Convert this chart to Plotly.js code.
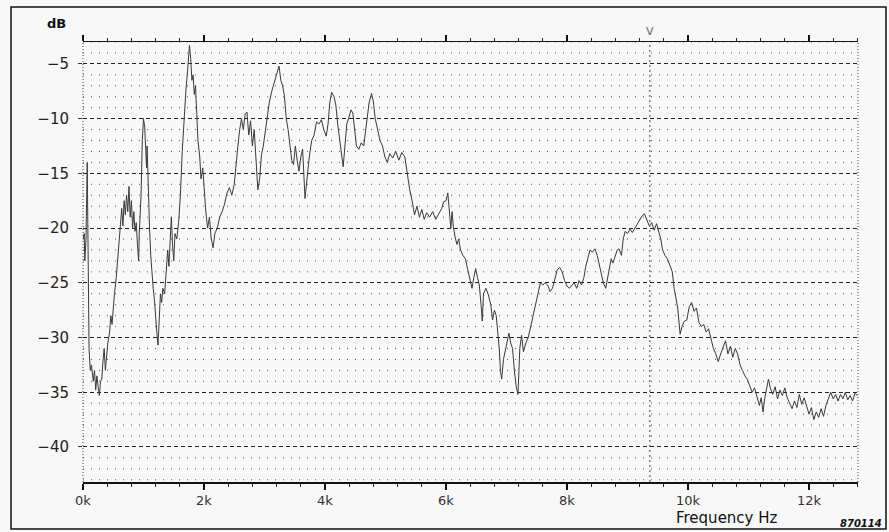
<!DOCTYPE html>
<html>
<head>
<meta charset="utf-8">
<script src="https://cdn.plot.ly/plotly-3.0.1.min.js"></script>
<style>
html,body{margin:0;padding:0;background:#f8f8f8;}
#chart{width:889px;height:532px;}
</style>
</head>
<body>
<div id="chart"></div>
<script>
// Frequency (kHz) and level (dB)
const freqKHz = [
0.00,0.02,0.03,0.05,0.07,0.08,0.09,0.10,0.12,0.14,0.17,0.19,0.21,0.23,0.25,0.27,0.29,0.31,0.33,0.35,0.37,0.39,0.41,0.44,0.46,0.48,
0.50,0.52,0.55,0.57,0.60,0.62,0.64,0.66,0.68,0.70,0.72,0.74,0.76,0.78,0.80,0.82,0.84,0.86,0.88,0.90,0.92,0.93,0.96,0.98,
1.00,1.02,1.04,1.05,1.06,1.08,1.10,1.12,1.14,1.16,1.18,1.20,1.22,1.24,1.26,1.28,1.30,1.32,1.35,1.38,1.40,1.42,1.44,1.46,1.48,
1.50,1.52,1.55,1.58,1.61,1.64,1.67,1.70,1.73,1.76,1.78,1.80,1.82,1.84,1.86,1.88,1.90,1.93,1.95,1.98,
2.00,2.03,2.06,2.09,2.12,2.15,2.18,2.22,2.26,2.30,2.34,2.38,2.42,2.46,2.50,2.53,2.56,2.59,2.62,2.65,2.68,2.71,2.74,2.77,2.80,2.83,2.86,2.89,2.92,2.95,2.98,
3.01,3.04,3.08,3.12,3.16,3.20,3.24,3.27,3.30,3.33,3.36,3.39,3.42,3.45,3.48,3.51,3.54,3.57,3.60,3.63,3.67,3.70,3.74,3.78,3.82,3.86,3.90,3.94,3.98,
4.02,4.05,4.08,4.11,4.15,4.18,4.21,4.24,4.27,4.30,4.33,4.36,4.39,4.43,4.46,4.49,4.52,4.56,4.60,4.64,4.67,4.70,4.73,4.77,4.80,4.83,4.87,4.91,4.95,4.99,
5.03,5.07,5.12,5.17,5.22,5.27,5.32,5.36,5.40,5.44,5.48,5.52,5.56,5.60,5.64,5.68,5.73,5.78,5.83,5.88,5.93,5.96,
6.00,6.03,6.05,6.08,6.10,6.12,6.15,6.18,6.21,6.24,6.28,6.32,6.36,6.40,6.43,6.46,6.49,6.52,6.55,6.58,6.60,6.62,6.66,6.70,6.74,6.77,6.80,6.83,6.86,6.88,6.90,6.92,6.95,6.98,
7.01,7.04,7.07,7.10,7.13,7.16,7.19,7.22,7.25,7.28,7.32,7.36,7.40,7.44,7.48,7.52,7.56,7.60,7.64,7.68,7.72,7.76,7.80,7.84,7.88,7.92,7.96,
8.00,8.04,8.08,8.12,8.16,8.20,8.24,8.28,8.31,8.34,8.38,8.42,8.46,8.50,8.53,8.56,8.60,8.64,8.67,8.70,8.73,8.76,8.80,8.83,8.86,8.90,8.93,8.96,
9.00,9.04,9.08,9.12,9.16,9.20,9.24,9.28,9.32,9.36,9.40,9.44,9.48,9.52,9.55,9.58,9.62,9.66,9.70,9.74,9.77,9.80,9.83,9.87,9.90,9.94,9.98,
10.02,10.06,10.10,10.14,10.18,10.22,10.26,10.30,10.34,10.38,10.42,10.46,10.50,10.54,10.58,10.62,10.66,10.70,10.74,10.78,10.82,10.86,10.90,10.94,10.98,
11.02,11.06,11.10,11.14,11.18,11.21,11.24,11.27,11.30,11.33,11.36,11.40,11.44,11.48,11.52,11.56,11.60,11.64,11.68,11.72,11.76,11.80,11.84,11.88,11.92,11.96,
12.00,12.04,12.08,12.12,12.16,12.20,12.24,12.28,12.32,12.36,12.40,12.44,12.48,12.52,12.56,12.60,12.64,12.68,12.72,12.76,12.80
];
const levelDb = [
-21,-20.5,-23,-21,-14,-19,-27,-31,-33,-32.5,-34,-33,-34.8,-33.5,-34.5,-35.3,-34,-33.8,-32.2,-31,-33,-31.5,-30.5,-29.5,-28,-28.8,
-27,-26,-24.5,-23,-21.5,-19.5,-18.2,-19.8,-17.5,-18.8,-17,-18.5,-16.2,-19,-17.5,-20,-18.5,-20.3,-19.5,-21.5,-23,-20.5,-17,-12,
-10,-10.8,-13,-14.5,-12.5,-17,-20,-22.5,-24.5,-25.5,-26.5,-28.5,-29.5,-30.7,-28,-26,-26.8,-25.5,-26,-24,-22,-23.5,-20.5,-19,-21.5,
-23,-20.5,-21,-19.5,-17,-13,-10,-7.5,-5.5,-3.3,-4.5,-6.5,-6,-7.8,-7,-9.5,-12,-13.5,-15.5,-14.5,
-16.5,-18.5,-20,-19,-21,-21.8,-20.5,-20,-19,-18.5,-17.8,-16.8,-16.3,-17,-16,-14,-12.5,-11,-10,-11,-9.6,-9.4,-11.5,-10.2,-12.5,-11,-13.5,-16.5,-15.5,-13.3,-12.5,
-11.2,-10.2,-8.5,-7.5,-6.8,-6,-5.2,-6.5,-7,-8,-10,-11,-12.5,-13.8,-14.2,-12.5,-13.8,-14.8,-13.5,-12.8,-17.3,-15.5,-13.5,-12,-11.5,-10.3,-10.5,-10.1,-11,
-11.6,-10.5,-8.5,-7.6,-8,-8.8,-10.5,-12,-13.2,-14.4,-12.5,-10.5,-10,-9.2,-9.5,-11,-12.5,-12.8,-12.2,-12.5,-11,-9.5,-8.5,-7.7,-8.5,-10,-11,-12,-12.5,-13.5,
-14,-13.2,-13.6,-13,-13.8,-13.1,-13.5,-15,-16.5,-17.5,-18.8,-18,-19,-18.3,-19.2,-18.6,-19,-18.5,-19.2,-18.7,-18.2,-17.6,
-17.5,-16.8,-18,-20,-18.5,-19.8,-20.8,-21.5,-21,-22,-22.5,-22.8,-23.8,-24.8,-25.5,-24.5,-23.7,-24.5,-25.2,-27,-28.5,-26,-25.5,-26.1,-27,-28.4,-27.5,-28,-29.5,-31,-33,-33.8,-32,-31.2,
-30.5,-29.6,-30.5,-31,-33,-34.5,-35.2,-31,-29.8,-31.3,-30.5,-30,-29,-28,-27,-26,-25,-25.2,-25,-25.2,-25.8,-25.5,-24.6,-23.8,-23.6,-24,-24.8,
-25.3,-25.5,-25.2,-25,-25.5,-24.8,-25.2,-24.5,-23.5,-22.8,-22,-22.2,-21.9,-22.5,-23.2,-24.2,-25,-25.5,-24.5,-23.5,-22.8,-23.2,-22.5,-22,-21.9,-22.5,-21,-20.3,
-20.5,-20.1,-20.4,-20,-19.6,-19.2,-18.9,-18.7,-19.3,-19.8,-19.5,-20.2,-19.6,-20.4,-21,-22,-22.5,-22.8,-23.5,-24,-25.5,-26.5,-27.3,-29.7,-29,-28.5,-28.4,
-27.2,-26.8,-27.6,-27.3,-28.6,-29,-28.8,-29.5,-29.2,-30.2,-31,-31.5,-32.2,-31.5,-30.8,-30.3,-31.5,-30.8,-31.8,-31,-31.5,-32.5,-33,-33.5,-33.8,
-34.4,-35,-34.6,-35.5,-36.2,-35.5,-36.8,-35.5,-34.5,-33.8,-34.6,-35.2,-34.5,-35.6,-34.8,-35.3,-34.6,-35.5,-36,-36.5,-35.8,-36.4,-35.2,-36.1,-35.5,-36.3,
-37,-36.4,-37.5,-36.8,-37.3,-36.5,-37.2,-36.2,-35.6,-35,-35.6,-35.2,-35.8,-35.2,-35.6,-35,-35.7,-35.3,-35.8,-35.1,-35.3
];
const xTickVals = [0, 2, 4, 6, 8, 10, 12];
const xTickText = ['0k', '2k', '4k', '6k', '8k', '10k', '12k'];
const yTickVals = [-5, -10, -15, -20, -25, -30, -35, -40];
const yTickText = ['\u22125', '\u221210', '\u221215', '\u221220', '\u221225', '\u221230', '\u221235', '\u221240'];
const markerFreq = 9.37;

const xRange = [0, 12.81];
const yRange = [-43.2, -3];

const trace = {
  x: freqKHz, y: levelDb, type: 'scatter', mode: 'lines',
  line: {color: '#3a3a3a', width: 1}, hoverinfo: 'skip', showlegend: false
};
const topTrace = {x: [], y: [], xaxis: 'x2', yaxis: 'y', type: 'scatter', mode: 'lines', showlegend: false};

const axFont = {family: 'DejaVu Sans, sans-serif', size: 13, color: '#333'};

// minor 1 dB dotted grid lines (skip the 5 dB major lines)
const minorShapes = [];
for (let v = -43; v <= -3; v++) {
  if (v % 5 === 0) continue;
  minorShapes.push({type: 'line', xref: 'paper', yref: 'y', x0: 0, x1: 1, y0: v, y1: v,
    line: {color: '#555', width: 1, dash: '1px,7px'}, layer: 'below'});
}

const layout = {
  width: 889, height: 532,
  margin: {l: 83, r: 31, t: 42, b: 50, pad: 0},
  paper_bgcolor: '#f8f8f8', plot_bgcolor: '#f8f8f8',
  showlegend: false,
  xaxis: {
    range: xRange, tickmode: 'array', tickvals: xTickVals, ticktext: xTickText,
    showgrid: false, zeroline: false, showline: true, linecolor: '#111', linewidth: 1.5,
    ticks: 'outside', ticklen: 6, tickwidth: 2, tickcolor: '#111',
    tickfont: axFont,
    minor: {tickmode: 'linear', tick0: 0, dtick: 0.4, ticks: 'outside', ticklen: 3, tickwidth: 1, tickcolor: '#222', showgrid: false}
  },
  xaxis2: {
    range: xRange, overlaying: 'x', side: 'top', anchor: 'y',
    tickmode: 'array', tickvals: xTickVals, showticklabels: false,
    showgrid: false, zeroline: false, showline: true, linecolor: '#111', linewidth: 1.5,
    ticks: 'outside', ticklen: 6, tickwidth: 2, tickcolor: '#111',
    minor: {tickmode: 'linear', tick0: 0, dtick: 0.4, ticks: 'outside', ticklen: 3, tickwidth: 1, tickcolor: '#222', showgrid: false}
  },
  yaxis: {
    range: yRange, tickmode: 'array', tickvals: yTickVals, ticktext: yTickText,
    showgrid: true, gridcolor: '#222', gridwidth: 1, griddash: '4px,3px',
    zeroline: false, showline: false,
    ticks: 'outside', ticklen: 4, tickwidth: 1, tickcolor: '#333',
    tickfont: {family: 'DejaVu Sans, sans-serif', size: 15, color: '#222'},
    ticklabelstandoff: 6
  },
  shapes: minorShapes.concat([
    {type: 'line', xref: 'paper', yref: 'paper', x0: 0, x1: 0, y0: 0, y1: 1, line: {color: '#444', width: 1, dash: '1px,2px'}},
    {type: 'line', xref: 'paper', yref: 'paper', x0: 1, x1: 1, y0: 0, y1: 1, line: {color: '#444', width: 1, dash: '1px,2px'}},
    {type: 'line', xref: 'x', yref: 'paper', x0: markerFreq, x1: markerFreq, y0: 0, y1: 1, line: {color: '#444', width: 1, dash: '2px,3px'}},
    {type: 'rect', xref: 'paper', yref: 'paper', x0: -0.0929, x1: 1.0361, y0: -0.1068, y1: 1.0795, line: {color: '#111', width: 1.5}, fillcolor: 'rgba(0,0,0,0)'}
  ]),
  annotations: [
    {text: 'dB', xref: 'paper', yref: 'paper', x: -0.034, y: 1.043, xanchor: 'center', yanchor: 'middle', showarrow: false,
     font: {family: 'DejaVu Sans, sans-serif', size: 13, color: '#111', weight: 'bold'}},
    {text: 'Frequency Hz', xref: 'paper', yref: 'paper', x: 0.831, y: -0.082, xanchor: 'center', yanchor: 'middle', showarrow: false,
     font: {family: 'DejaVu Sans, sans-serif', size: 15, color: '#111'}},
    {text: '<i>870114</i>', xref: 'paper', yref: 'paper', x: 1.004, y: -0.094, xanchor: 'center', yanchor: 'middle', showarrow: false,
     font: {family: 'DejaVu Sans, sans-serif', size: 10, color: '#111', weight: 'bold'}},
    {text: 'V', xref: 'x', yref: 'paper', x: markerFreq, y: 1.005, showarrow: false, xanchor: 'center', yanchor: 'bottom',
     font: {family: 'DejaVu Sans, sans-serif', size: 11, color: '#666'}}
  ]
};

Plotly.newPlot('chart', [trace, topTrace], layout, {staticPlot: true, displayModeBar: false});
</script>
</body>
</html>
